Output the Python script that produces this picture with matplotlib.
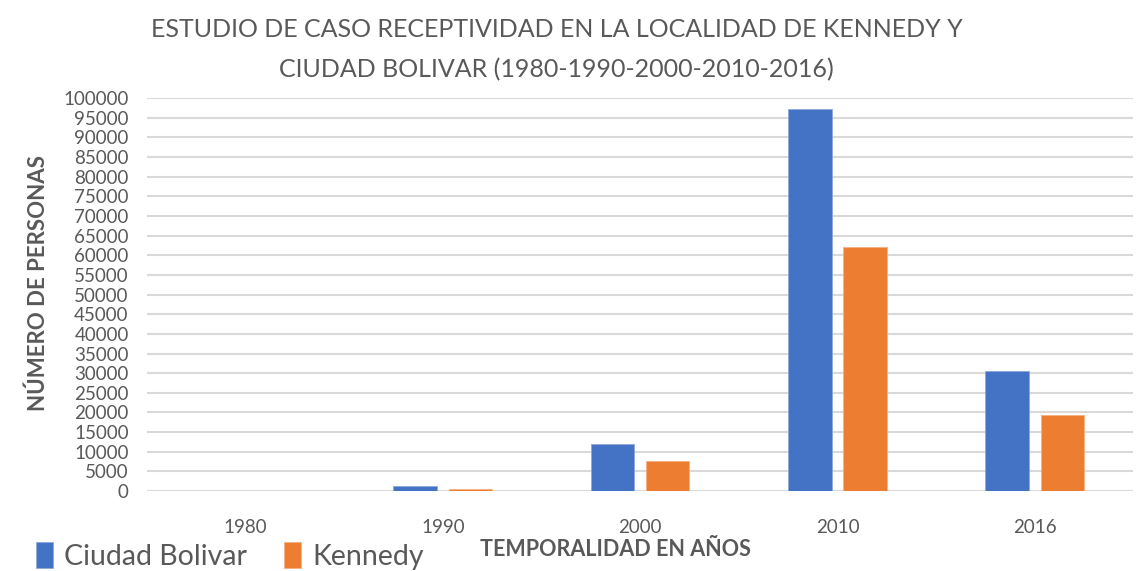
import numpy as np
import matplotlib

matplotlib.use("Agg")
import matplotlib.pyplot as plt

# datos
years = ["1980", "1990", "2000", "2010", "2016"]
ciudad_bolivar = [0, 1200, 12000, 97300, 30500]
kennedy = [0, 500, 7700, 62200, 19400]
y_ticks = list(range(0, 100001, 5000))

BLUE = "#4472C4"
ORANGE = "#ED7D31"
GRAY = "#595959"

plt.rcParams["font.family"] = ["Lato", "DejaVu Sans"]

fig = plt.figure(figsize=(11.38, 5.71), dpi=100)
ax = fig.add_axes([0.129, 0.140, 0.867, 0.688])

x = np.arange(len(years))
w = 0.22
off = 0.14
ax.bar(x - off, ciudad_bolivar, w, color=BLUE, edgecolor="#8EA9DB", linewidth=0.6,
       label="Ciudad Bolivar", zorder=3)
ax.bar(x + off, kennedy, w, color=ORANGE, edgecolor="#F4B183", linewidth=0.6,
       label="Kennedy", zorder=3)

ax.set_xlim(-0.5, 4.5)
ax.set_ylim(0, 100000)
ax.set_yticks(y_ticks)
ax.set_yticklabels([str(v) for v in y_ticks], fontsize=13.5, color=GRAY)
ax.set_xticks(x)
ax.set_xticklabels(years, fontsize=13.5, color=GRAY)
ax.tick_params(axis="both", length=0)
ax.tick_params(axis="y", pad=13)
ax.tick_params(axis="x", pad=20)
ax.grid(axis="y", color="#D9D9D9", linewidth=1.5, zorder=0)
for s in ax.spines.values():
    s.set_visible(False)

fig.text(0.489, 0.948, "ESTUDIO DE CASO RECEPTIVIDAD EN LA LOCALIDAD DE KENNEDY Y",
         ha="center", va="center", fontsize=18, color=GRAY)
fig.text(0.489, 0.878, "CIUDAD BOLIVAR (1980-1990-2000-2010-2016)",
         ha="center", va="center", fontsize=18, color=GRAY)

fig.text(0.034, 0.505, "NÚMERO DE PERSONAS", rotation=90, ha="center", va="center",
         fontsize=16, fontweight="bold", color=GRAY)
fig.text(0.541, 0.037, "TEMPORALIDAD EN AÑOS", ha="center", va="center",
         fontsize=15.5, fontweight="bold", color=GRAY)

fig.legend(loc="lower left", bbox_to_anchor=(0.03, 0.0), ncol=2, frameon=False,
           fontsize=20.5, handlelength=0.6, handleheight=1.0, handletextpad=0.4,
           columnspacing=1.3, labelcolor=GRAY, borderpad=0.0, borderaxespad=0.05)

fig.savefig("out.png", dpi=100)
